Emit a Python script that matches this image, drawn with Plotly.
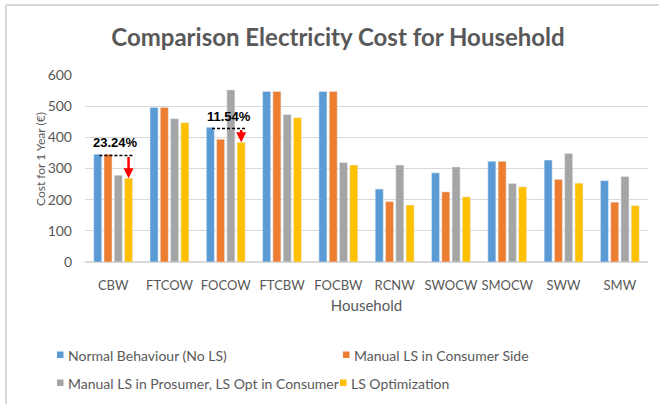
import plotly.graph_objects as go

households = ["CBW", "FTCOW", "FOCOW", "FTCBW", "FOCBW", "RCNW", "SWOCW", "SMOCW", "SWW", "SMW"]
normal = [346, 496, 432, 547, 547, 234, 286, 323, 327, 261]
manual_consumer = [346, 496, 394, 547, 547, 194, 225, 323, 265, 192]
manual_prosumer = [278, 460, 552, 473, 319, 311, 305, 252, 348, 274]
ls_opt = [269, 447, 384, 463, 311, 183, 209, 241, 253, 181]

series_names = ["Normal Behaviour (No LS)", "Manual LS in Consumer Side",
                "Manual LS in Prosumer, LS Opt in Consumer", "LS Optimization"]
colors = ["#5B9BD5", "#ED7D31", "#A5A5A5", "#FFC000"]
y_ticks = [0, 100, 200, 300, 400, 500, 600]
# percentage reductions highlighted (category index, label)
highlights = [(0, "23.24%"), (2, "11.54%")]

FONT = "Lato"
GREY = "#595959"

W, H = 659, 404
L, R, T, B = 85, 11, 75, 142
pw, ph = W - L - R, H - T - B


def px_x(px):
    return (px - L) / pw


def px_y(py):
    return (H - B - py) / ph


fig = go.Figure()
all_series = [normal, manual_consumer, manual_prosumer, ls_opt]
for name, vals, col in zip(series_names, all_series, colors):
    fig.add_trace(go.Bar(x=list(range(len(households))), y=vals, marker_color=col,
                         name=name, showlegend=False))

bargap, bargroupgap = 0.27, 0.22
slot = (1 - bargap) / 4
off_blue = -1.5 * slot
off_yellow = 1.5 * slot

shapes = []
annotations = []
for idx, label in highlights:
    yline = normal[idx] - 4
    shapes.append(dict(type="line", xref="x", yref="y",
                       x0=idx + off_blue + 0.03, x1=idx + off_yellow + slot * 0.45,
                       y0=yline, y1=yline,
                       line=dict(color="black", width=1.5, dash="3px,2px")))
    annotations.append(dict(x=idx + off_yellow, y=ls_opt[idx], xref="x", yref="y",
                            ax=idx + off_yellow, ay=yline, axref="x", ayref="y",
                            showarrow=True, arrowhead=2, arrowsize=0.8, arrowwidth=2.5,
                            arrowcolor="#FF0000", text=""))
    annotations.append(dict(x=idx + 0.05, y=yline, xref="x", yref="y",
                            text="<b>" + label + "</b>", showarrow=False,
                            yanchor="bottom", yshift=3,
                            font=dict(family="Liberation Sans, Arial", size=13, color="black")))

# y-axis title
annotations.append(dict(text="Cost for 1 Year (€)", textangle=-90, showarrow=False,
                        xref="paper", yref="paper", x=px_x(40), y=px_y(159),
                        xanchor="center", yanchor="middle",
                        font=dict(family=FONT, size=12, color=GREY)))

# legend (two rows, two columns) drawn as key squares + labels
legend_pos = [(57, 355), (343, 355), (57, 383), (340, 383)]
for name, col, (lx, ly) in zip(series_names, colors, legend_pos):
    shapes.append(dict(type="rect", xref="paper", yref="paper",
                       x0=px_x(lx), x1=px_x(lx + 6.5), y0=px_y(ly - 3.5), y1=px_y(ly + 3),
                       line=dict(width=0), fillcolor=col))
    annotations.append(dict(text=name, showarrow=False, xref="paper", yref="paper",
                            x=px_x(lx + 9), y=px_y(ly), xanchor="left", yanchor="middle",
                            font=dict(family=FONT, size=14, color=GREY)))

# outer frame
frame_col = "#D9D9D9"
shapes.append(dict(type="line", xref="paper", yref="paper",
                   x0=px_x(6), x1=px_x(W + 2), y0=px_y(5), y1=px_y(5),
                   line=dict(color=frame_col, width=2)))
shapes.append(dict(type="line", xref="paper", yref="paper",
                   x0=px_x(6), x1=px_x(6), y0=px_y(5), y1=px_y(H + 2),
                   line=dict(color=frame_col, width=2)))

fig.update_layout(
    width=W, height=H,
    margin=dict(l=L, r=R, t=T, b=B, autoexpand=False),
    paper_bgcolor="white", plot_bgcolor="white",
    barmode="group", bargap=bargap, bargroupgap=bargroupgap,
    showlegend=False,
    font=dict(family=FONT, color=GREY, size=13),
    title=dict(text="<b>Comparison Electricity Cost for Household</b>",
               x=338 / W, xanchor="center",
               y=1 - 38 / H, yanchor="middle", yref="container",
               font=dict(family=FONT, size=24, color=GREY)),
    xaxis=dict(tickmode="array", tickvals=list(range(len(households))), ticktext=households,
               range=[-0.5, len(households) - 0.5],
               showgrid=False, zeroline=False, showline=False,
               ticks="", ticklabelstandoff=14,
               tickfont=dict(size=13, color=GREY),
               title=dict(text="Household", standoff=8, font=dict(size=15, color=GREY))),
    yaxis=dict(range=[0, 600], tickvals=y_ticks, showgrid=True, gridcolor="#D9D9D9",
               gridwidth=1, zeroline=True, zerolinecolor="#D9D9D9", showline=False,
               tickfont=dict(size=14, color=GREY), ticklabelstandoff=12),
    shapes=shapes,
    annotations=annotations,
)

fig.write_html("out.html", config={"displayModeBar": False},
               post_script="document.body.style.margin='0px';")
